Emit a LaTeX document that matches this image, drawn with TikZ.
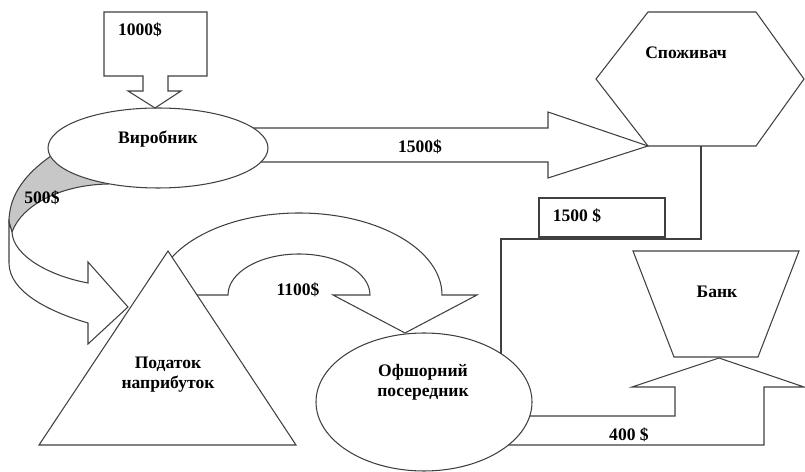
\documentclass[tikz,border=0pt]{standalone}
\usepackage{fontspec}
\setmainfont{Liberation Serif}
\tikzset{
  blk/.style={draw=black!75, line width=0.6pt, fill=white, line join=miter},
  lbl/.style={font=\bfseries\fontsize{10}{11.5}\selectfont, align=center, inner sep=0pt},
}

\begin{document}
\begin{tikzpicture}[x=0.02cm, y=-0.02cm]
  \useasboundingbox (0,0) rectangle (805,472);
  % 500$ curved arrow, back side shaded
  \draw[blk, fill=black!22] (60,150) .. controls (25,172) and (9,195) .. (9,222)
    -- (12,232) .. controls (22,205) and (60,185) .. (108,184) -- (100,160) -- cycle;
  \draw[blk] (9,222) -- (9,263) .. controls (9,292) and (50,312) .. (88,323)
    -- (88,344) -- (128,307) -- (88,262) -- (88,283)
    .. controls (50,276) and (13,256) .. (12,232) -- cycle;
  % 1500$ block arrow to the consumer
  \draw[blk] (240,128) -- (548,128) -- (548,112) -- (648,146) -- (548,178)
    -- (548,162) -- (240,162) -- cycle;
  % producer
  \draw[blk] (158,148) ellipse [x radius=110, y radius=40];
  \node[lbl] (vyrobnyk) at (158,139) {Виробник};
  \node[lbl] (s500) at (42,198) {500\$};
  \node[lbl] (s1500a) at (420,147) {1500\$};
  % 1000$ callout
  \draw[blk] (104,12) -- (207,12) -- (207,76) -- (168,76) -- (168,91) -- (181,91)
    -- (155,108) -- (128,91) -- (143,91) -- (143,76) -- (104,76) -- cycle;
  \node[lbl] (s1000) at (140,30) {1000\$};
  % 1100$ u-turn arrow
  \draw[blk] (156,295) arc[start angle=180, end angle=360, x radius=143, y radius=82]
    -- (477,295) -- (405,333) -- (333,295) -- (370,295)
    arc[start angle=0, end angle=-180, x radius=71, y radius=41] -- cycle;
  \node[lbl] (s1100) at (298,290) {1100\$};
  % tax
  \draw[blk] (168,251) -- (296,445) -- (39,445) -- cycle;
  \node[lbl] (podatok) at (168,375) {Податок\\наприбуток};
  % 400$ bent arrow to the bank
  \draw[blk] (420,416) -- (675,416) -- (675,387) -- (632,387) -- (719,358)
    -- (804,387) -- (764,387) -- (764,445) -- (420,445) -- cycle;
  \node[lbl] (s400) at (629,435) {400 \$};
  % link consumer -> offshore
  \coordinate (spozhB) at (701,146);
  \coordinate (ofshT) at (501,354);
  \draw[draw=black!75, line width=0.6pt] (spozhB) -- (701,239) -| (ofshT);
  % offshore intermediary
  \draw[blk] (424,402) ellipse [x radius=108, y radius=69];
  \node[lbl] (ofshor) at (423,382) {Офшорний\\посередник};
  % 1500 $ box
  \draw[blk] (539,198) rectangle (665,237);
  \node[lbl] (s1500b) at (577,216) {1500 \$};
  % consumer
  \draw[blk] (648,12) -- (756,12) -- (804,79) -- (756,146) -- (648,146) -- (596,79) -- cycle;
  \node[lbl] (spozhyvach) at (686,53) {Споживач};
  % bank
  \draw[blk] (633,251) -- (799,251) -- (758,357) -- (674,357) -- cycle;
  \node[lbl] (bank) at (717,292) {Банк};
\end{tikzpicture}
\end{document}
